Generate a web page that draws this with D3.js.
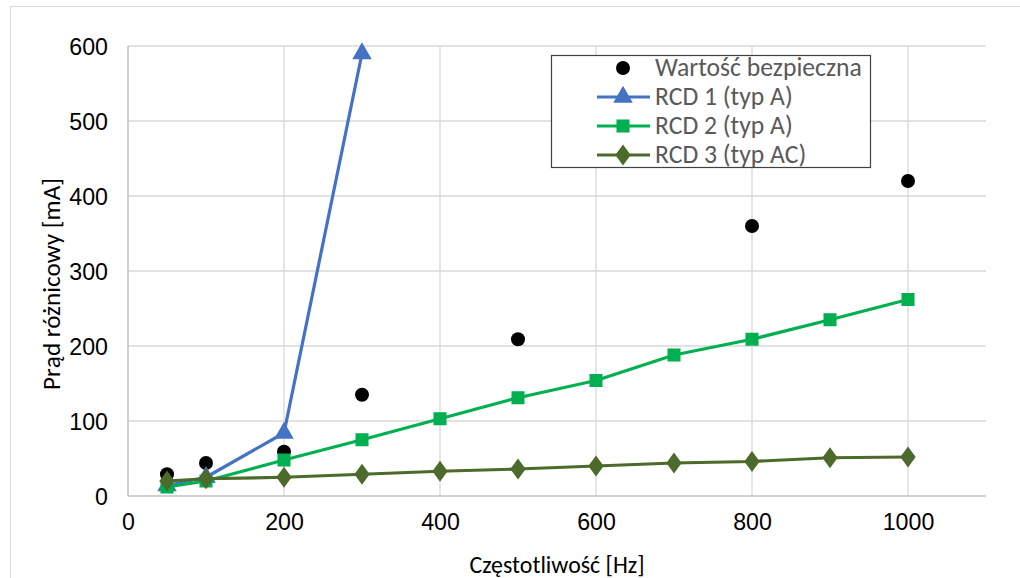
<!DOCTYPE html>
<html><head><meta charset="utf-8">
<script src="https://cdn.jsdelivr.net/npm/d3@7"></script>
<style>body{margin:0;background:#fff;}svg{display:block;font-family:Carlito,Calibri,"Open Sans",sans-serif;}</style>
</head><body>
<svg id="c" width="1020" height="578"></svg>
<script>
const safeX = [50, 100, 200, 300, 500, 800, 1000];
const safeY = [29, 44, 59, 135, 209, 360, 420];
const rcd1X = [50, 100, 200, 300];
const rcd1Y = [14, 25, 84, 590];
const rcd2X = [50, 100, 200, 300, 400, 500, 600, 700, 800, 900, 1000];
const rcd2Y = [12, 20, 48, 75, 103, 131, 154, 188, 209, 235, 262];
const rcd3X = [50, 100, 200, 300, 400, 500, 600, 700, 800, 900, 1000];
const rcd3Y = [20, 23, 25, 29, 33, 36, 40, 44, 46, 51, 52];
const xTicks = [0, 200, 400, 600, 800, 1000];
const yTicks = [0, 100, 200, 300, 400, 500, 600];
const seriesNames = ["Wartość bezpieczna", "RCD 1 (typ A)", "RCD 2 (typ A)", "RCD 3 (typ AC)"];
const xTitle = "Częstotliwość [Hz]";
const yTitle = "Prąd różnicowy [mA]";

const svg = d3.select("#c");
const L = 128, R = 986, T = 46, B = 496;
const x = d3.scaleLinear().domain([0, 1100]).range([L, R]);
const y = d3.scaleLinear().domain([0, 600]).range([B, T]);

// measure font size needed so that a string reaches a target width
function sizeFor(str, target) {
  const t = svg.append("text").attr("font-size", 20).text(str);
  const w = t.node().getComputedTextLength();
  t.remove();
  return 20 * target / w;
}
const tickSize = sizeFor("1000", 47);
const legSize = sizeFor(seriesNames[0], 207);
const xtSize = sizeFor(xTitle, 175);
const ytSize = sizeFor(yTitle, 212);

svg.append("rect").attr("x", 10.5).attr("y", 6.5).attr("width", 1030).attr("height", 600)
  .attr("fill", "none").attr("stroke", "#d9d9d9");

// gridlines
svg.append("g").selectAll("line").data(yTicks.filter(d => d > 0)).join("line")
  .attr("x1", L).attr("x2", R).attr("y1", d => y(d)).attr("y2", d => y(d))
  .attr("stroke", "#d9d9d9").attr("stroke-width", 1.3);
svg.append("g").selectAll("line").data([200,400,600,800,1000]).join("line")
  .attr("x1", d => x(d)).attr("x2", d => x(d)).attr("y1", T).attr("y2", B)
  .attr("stroke", "#d9d9d9").attr("stroke-width", 1.3);

// axes
const xa = svg.append("g").attr("transform", `translate(0,${B})`)
  .call(d3.axisBottom(x).tickValues(xTicks).tickFormat(d3.format("d")).tickSize(0));
xa.select(".domain").attr("stroke", "#bfbfbf").attr("stroke-width", 1.5).attr("d", `M${L},0H${R}`);
xa.selectAll("text").attr("font-size", tickSize).attr("fill", "#000").attr("font-family", "inherit")
  .attr("y", 34).attr("dy", 0);
const ya = svg.append("g").attr("transform", `translate(${L},0)`)
  .call(d3.axisLeft(y).tickValues(yTicks).tickFormat(d3.format("d")).tickSize(0).tickPadding(20));
ya.select(".domain").attr("stroke", "#bfbfbf").attr("stroke-width", 1.5).attr("d", `M0,${T}V${B}`);
ya.selectAll("text").attr("font-size", tickSize).attr("fill", "#000").attr("font-family", "inherit")
  .attr("dy", "0.36em");

svg.append("text").attr("x", 557).attr("y", 573).attr("text-anchor", "middle")
  .attr("font-size", xtSize).attr("fill", "#000").text(xTitle);
svg.append("text").attr("transform", "translate(60,284) rotate(-90)").attr("text-anchor", "middle")
  .attr("font-size", ytSize).attr("fill", "#000").text(yTitle);

const colors = ["#000000", "#4472C4", "#00B050", "#4B6A2B"];
const line = d3.line().x(d => x(d[0])).y(d => y(d[1]));

// safe values
svg.append("g").selectAll("circle").data(d3.zip(safeX, safeY)).join("circle")
  .attr("cx", d => x(d[0])).attr("cy", d => y(d[1])).attr("r", 7).attr("fill", colors[0]);

const sers = [
  {xs: rcd1X, ys: rcd1Y, c: colors[1], sym: d3.symbolTriangle, size: 165},
  {xs: rcd2X, ys: rcd2Y, c: colors[2], sym: d3.symbolSquare, size: 170},
  {xs: rcd3X, ys: rcd3Y, c: colors[3], sym: d3.symbolDiamond, size: 130}
];
sers.forEach(s => {
  const pts = d3.zip(s.xs, s.ys);
  svg.append("path").attr("d", line(pts)).attr("fill", "none").attr("stroke", s.c)
    .attr("stroke-width", 3.2).attr("stroke-linejoin", "round");
  svg.append("g").selectAll("path").data(pts).join("path")
    .attr("transform", d => `translate(${x(d[0])},${y(d[1])})` + (s.sym === d3.symbolDiamond ? " scale(1.25,1)" : ""))
    .attr("d", d3.symbol().type(s.sym).size(s.size)).attr("fill", s.c);
});

// legend
const lg = svg.append("g");
lg.append("rect").attr("x", 551.5).attr("y", 55.5).attr("width", 319).attr("height", 112)
  .attr("fill", "#fff").attr("stroke", "#404040").attr("stroke-width", 1.2);
const rowsY = [68, 97, 126, 155];
lg.append("circle").attr("cx", 623).attr("cy", rowsY[0]).attr("r", 7).attr("fill", colors[0]);
sers.forEach((s, i) => {
  const yy = rowsY[i + 1];
  lg.append("line").attr("x1", 597).attr("x2", 650).attr("y1", yy).attr("y2", yy)
    .attr("stroke", s.c).attr("stroke-width", 3.2);
  lg.append("path").attr("transform", `translate(623,${yy})` + (s.sym === d3.symbolDiamond ? " scale(1.25,1)" : ""))
    .attr("d", d3.symbol().type(s.sym).size(s.size)).attr("fill", s.c);
});
seriesNames.forEach((n, i) => {
  lg.append("text").attr("x", 655).attr("y", rowsY[i] + 8).attr("font-size", legSize)
    .attr("fill", "#595959").text(n);
});
</script>
</body></html>
